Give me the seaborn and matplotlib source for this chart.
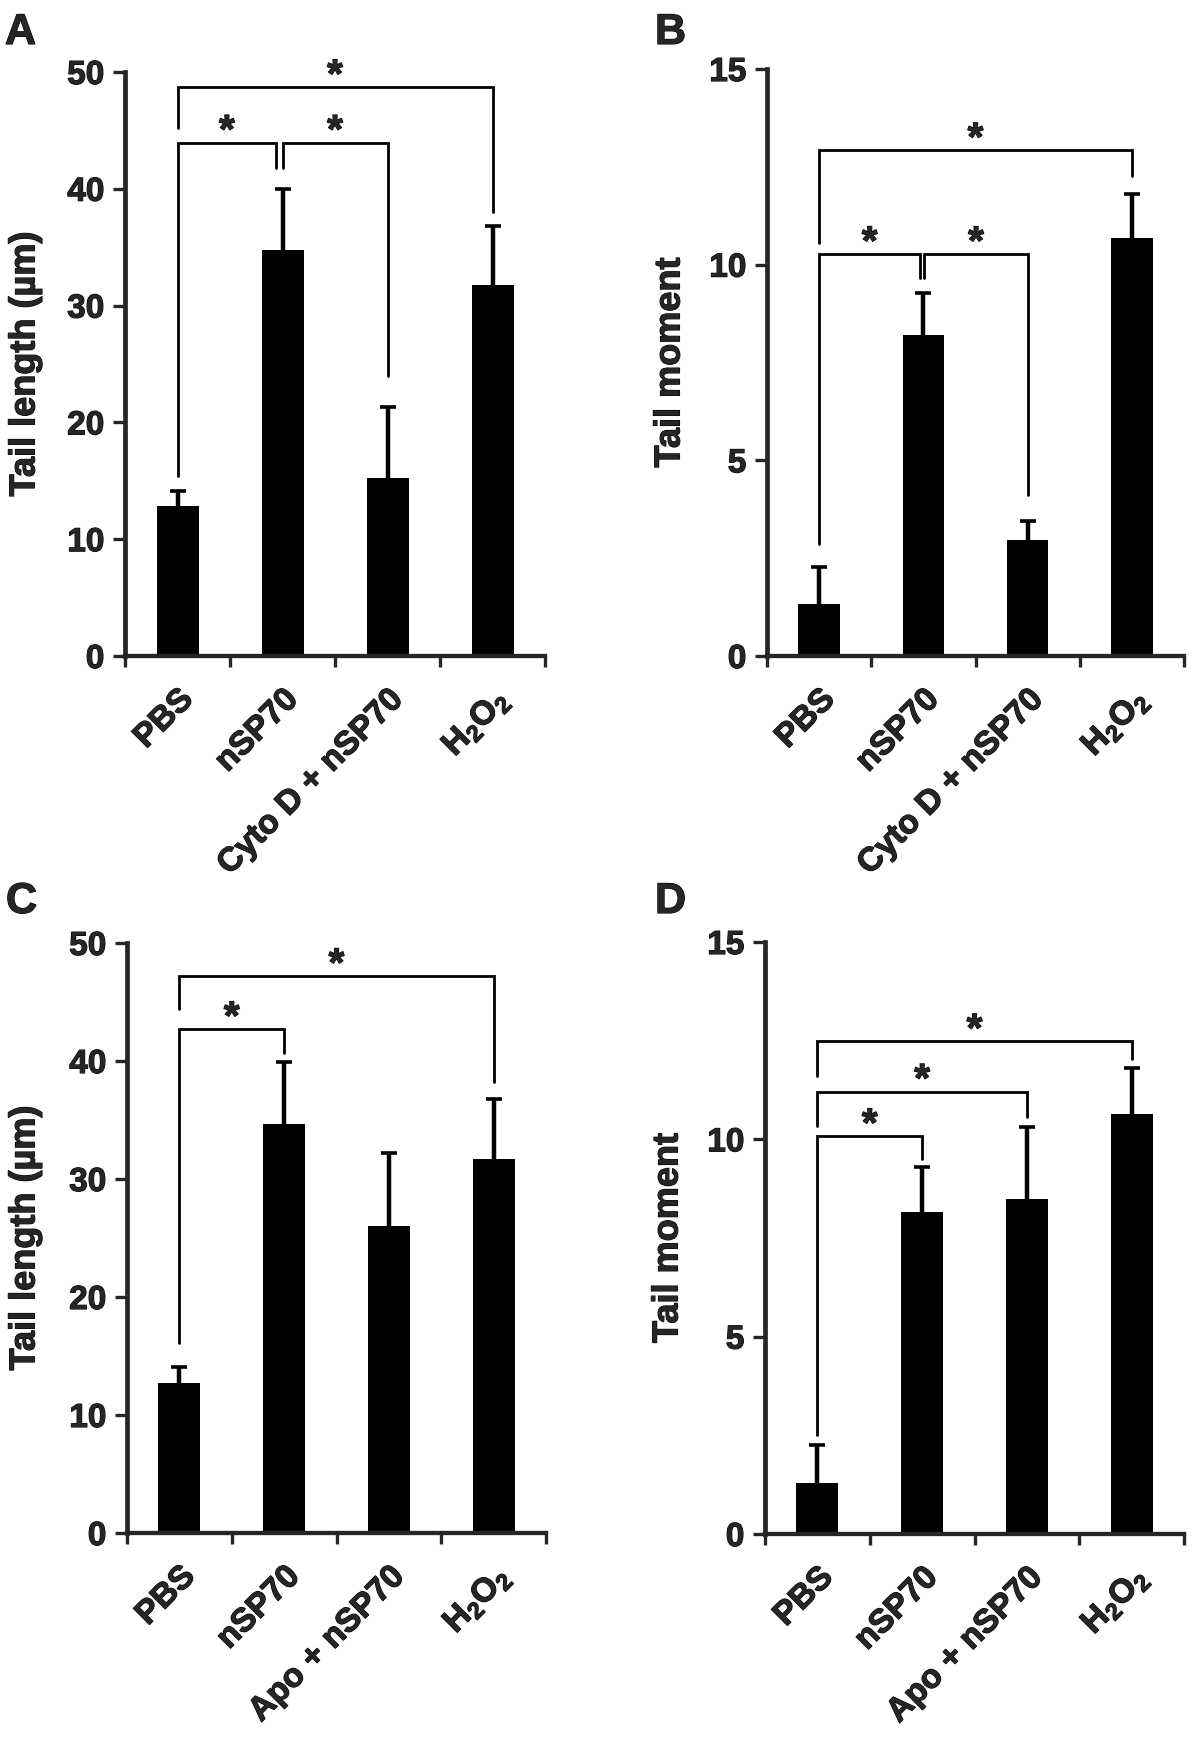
import numpy as np
import pandas as pd
import matplotlib
matplotlib.use("Agg")
import matplotlib.pyplot as plt
import matplotlib.patheffects as pe
import seaborn as sns

# ---------------- data ----------------
cats_cyto = ["PBS", "nSP70", "Cyto D + nSP70", "H$_2$O$_2$"]
cats_apo = ["PBS", "nSP70", "Apo + nSP70", "H$_2$O$_2$"]

a_mean = [12.8, 34.8, 15.2, 31.75]
a_err = [1.35, 5.2, 6.1, 5.05]
b_mean = [1.33, 8.2, 2.96, 10.67]
b_err = [0.94, 1.08, 0.5, 1.14]
c_mean = [12.67, 34.7, 26.0, 31.7]
c_err = [1.43, 5.2, 6.2, 5.1]
d_mean = [1.3, 8.16, 8.5, 10.64]
d_err = [0.96, 1.15, 1.81, 1.16]

# significance brackets: (x_left, x_right, y_bar, y_left_leg_end, y_right_leg_end)
a_sig = [(0, 0.94, 43.95, 15.45, 41.8), (1.0, 2, 43.95, 41.8, 24.0), (0, 3, 48.7, 45.2, 38.0)]
b_sig = [(0, 0.97, 10.27, 2.87, 9.65), (1.01, 2, 10.27, 9.65, 4.12), (0, 3, 12.92, 10.56, 12.27)]
c_sig = [(0, 1, 42.7, 16.1, 40.7), (0, 3, 47.2, 44.4, 38.2)]
d_sig = [(0, 1, 10.08, 2.51, 9.49), (0, 2, 11.21, 10.33, 10.56), (0, 3, 12.48, 11.6, 12.03)]

# ---------------- style ----------------
sns.set_style("ticks")
plt.rcParams["font.family"] = ["Liberation Sans", "DejaVu Sans"]
plt.rcParams["font.weight"] = "bold"
plt.rcParams["mathtext.fontset"] = "custom"
plt.rcParams["mathtext.rm"] = "Liberation Sans:bold"
plt.rcParams["mathtext.bf"] = "Liberation Sans:bold"
plt.rcParams["mathtext.it"] = "Liberation Sans:bold"
plt.rcParams["mathtext.default"] = "bf"

W, H = 1200, 1749
fig = plt.figure(figsize=(W / 100, H / 100), dpi=100)

FS = 24
HEAVY = [pe.withStroke(linewidth=0.8, foreground="black")]


def px_axes(left, right, top, bottom):
    return fig.add_axes([left / W, 1 - bottom / H, (right - left) / W, (bottom - top) / H])


def panel(ax, cats, mean, err, sig, ymax, ystep, ylabel, label_x, letter, letter_xy):
    df = pd.DataFrame({"group": cats, "value": mean})
    sns.barplot(data=df, x="group", y="value", color="black", width=0.4,
                saturation=1, errorbar=None, ax=ax, linewidth=0)
    x = np.arange(len(cats))
    _, caps, _ = ax.errorbar(x, mean, yerr=[np.zeros(len(mean)), err], fmt="none",
                             ecolor="black", elinewidth=3.2, capsize=6, capthick=2.6,
                             zorder=3)
    # hide the (zero-length) lower caps sitting on the bar tops
    for c in caps:
        if np.allclose(c.get_ydata(), mean):
            c.set_visible(False)
    ax.set_xlim(-0.5, len(cats) - 0.5)
    ax.set_ylim(0, ymax)
    yt = np.arange(0, ymax + 0.01, ystep)
    ax.set_yticks(yt)
    ax.set_yticklabels([f"{int(v)}" for v in yt], fontsize=FS, fontweight="bold")
    ax.set_xticks(x)
    ax.set_xticklabels(cats, rotation=45, ha="right", rotation_mode="anchor",
                       fontsize=FS, fontweight="bold")
    ax.set_xticks(np.arange(-0.5, len(cats)), minor=True)
    ax.tick_params(axis="x", which="major", length=0, pad=20)
    ax.tick_params(axis="x", which="minor", length=8, width=2.4, direction="out")
    ax.tick_params(axis="y", which="major", length=8.8, width=2.4, direction="out", pad=6)
    for t in ax.get_xticklabels() + ax.get_yticklabels():
        t.set_path_effects(HEAVY)
    ax.set_xlabel("")
    ax.set_ylabel("")
    for s in ["top", "right"]:
        ax.spines[s].set_visible(False)
    ax.spines["left"].set_linewidth(3.4)
    ax.spines["bottom"].set_linewidth(3.1)
    for (x0, x1, yb, yl, yr) in sig:
        ax.plot([x0, x0, x1, x1], [yl, yb, yb, yr], color="black", lw=2.0,
                solid_joinstyle="miter", clip_on=False)
        ax.text((x0 + x1) / 2, yb, "*", ha="center", va="baseline",
                fontsize=29, fontweight="bold", path_effects=HEAVY)
    bb = ax.get_position()
    fig.text(label_x / W, bb.y0 + bb.height / 2, ylabel, rotation=90,
             ha="center", va="center", fontsize=26, fontweight="bold",
             path_effects=HEAVY)
    fig.text(letter_xy[0] / W, 1 - letter_xy[1] / H, letter, ha="left",
             va="baseline", fontsize=31, fontweight="bold", path_effects=HEAVY)


axA = px_axes(125, 545, 73, 657)
axB = px_axes(767, 1184, 70, 657)
axC = px_axes(127, 546, 944, 1534)
axD = px_axes(765, 1184, 943, 1535)

panel(axA, cats_cyto, a_mean, a_err, a_sig, 50, 10, "Tail length (µm)", 25, "A", (5, 45))
panel(axB, cats_cyto, b_mean, b_err, b_sig, 15, 5, "Tail moment", 670, "B", (655, 45))
panel(axC, cats_apo, c_mean, c_err, c_sig, 50, 10, "Tail length (µm)", 25, "C", (6, 914))
panel(axD, cats_apo, d_mean, d_err, d_sig, 15, 5, "Tail moment", 668, "D", (655, 914))

fig.savefig("out.png", dpi=100, facecolor="white")
